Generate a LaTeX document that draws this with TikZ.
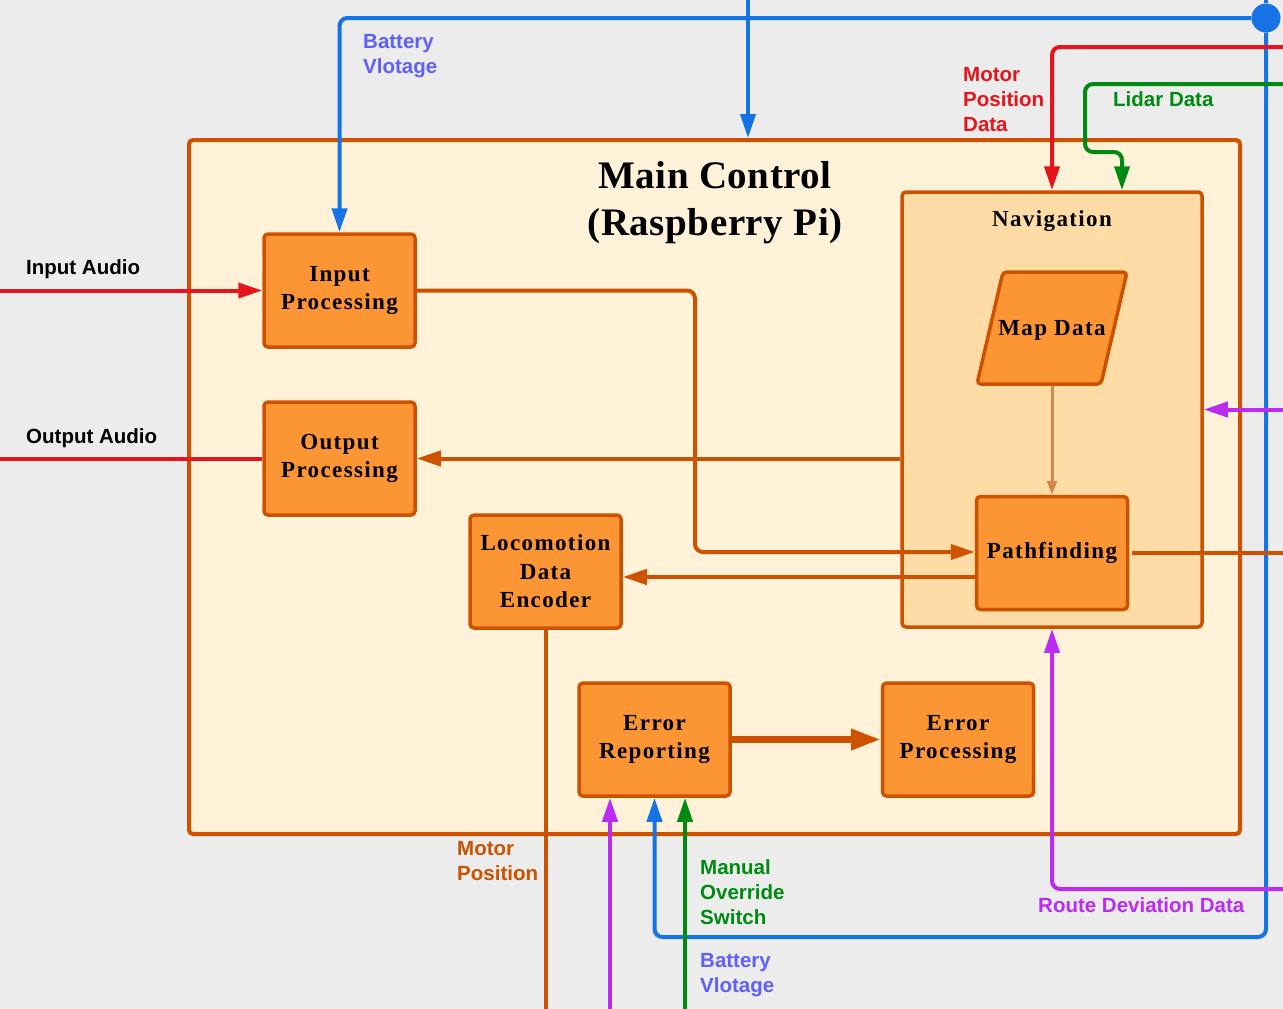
\documentclass[tikz,border=0pt]{standalone}
\usepackage{fontspec}
\setmainfont{Liberation Serif}
\newfontfamily\boxfont[LetterSpace=6]{Liberation Serif}
\newfontfamily\titlefont[LetterSpace=1.5]{Liberation Serif}
\newfontfamily\lblfont{Liberation Sans}
\usepackage{tikz}
\usetikzlibrary{arrows.meta, positioning, calc}

\definecolor{bggray}{HTML}{ECECEC}
\definecolor{cream}{HTML}{FFF2D9}
\definecolor{navfill}{HTML}{FFDCA6}
\definecolor{boxfill}{HTML}{FC9533}
\definecolor{boxline}{HTML}{CC5200}
\definecolor{mapline}{HTML}{D2884A}
\definecolor{sigred}{HTML}{E8141C}
\definecolor{sigblue}{HTML}{1673E6}
\definecolor{siggreen}{HTML}{008A12}
\definecolor{sigpurple}{HTML}{BC2BF2}
\definecolor{txtblue}{HTML}{5F5FFA}

\begin{document}
\begin{tikzpicture}[x=1pt,y=-1pt,>={Triangle[length=24pt,width=15pt]},
                    proc node/.style={rectangle,draw=boxline,fill=boxfill,line width=3.5pt,rounded corners=4pt,
                                      minimum width=151pt,minimum height=113pt,align=center,
                                      font=\boxfont\bfseries\fontsize{23}{28.5}\selectfont},
                    sig line/.style={line width=4pt,rounded corners=8pt},
                    red line/.style={sig line,draw=sigred},
                    blue line/.style={sig line,draw=sigblue},
                    green line/.style={sig line,draw=siggreen},
                    purple line/.style={sig line,draw=sigpurple},
                    or line/.style={sig line,draw=boxline},
                    sig label/.style={anchor=north west,inner sep=0pt,align=left,
                                      font=\lblfont\bfseries\fontsize{20.5}{25}\selectfont}]
    \useasboundingbox (0,0) rectangle (1283,1009);
    \fill[bggray] (0,0) rectangle (1283,1009);

    \node[draw=boxline,fill=cream,line width=4pt,rounded corners=4pt,minimum width=1051pt,minimum height=694pt] (main) at (714.5,487) {};
    \node[align=center,font=\titlefont\bfseries\fontsize{39}{47}\selectfont] (title) at (715,203) {Main Control\\(Raspberry Pi)};
    \node[draw=boxline,fill=navfill,line width=3.5pt,rounded corners=4pt,minimum width=300pt,minimum height=435pt] (nav) at (1052,409.5) {};
    \node[font=\boxfont\bfseries\fontsize{23}{28}\selectfont] (navtitle) at (1052,221) {Navigation};

    \node[proc node] (inproc) at (339.5,290.5) {Input\\Processing};
    \node[proc node] (outproc) at (339.5,458.5) {Output\\Processing};
    \node[proc node] (loco) at (545.5,571.5) {Locomotion\\Data\\Encoder};
    \node[proc node] (errrep) at (654.5,739.5) {Error\\Reporting};
    \node[proc node] (errproc) at (958,739.5) {Error\\Processing};
    \node[proc node] (pathf) at (1052,553) {Pathfinding};
    \node[proc node,xslant=0.232,minimum width=124pt,minimum height=112pt] (mapd) at (1052,328) {};
    \node[font=\boxfont\bfseries\fontsize{23}{28}\selectfont] (maptext) at (1052,330) {Map Data};

    \coordinate (btop) at (1266,0);
    \coordinate (btop2) at (748,0);
    \coordinate (bturn) at (654.5,937);
    \node[circle,fill=sigblue,inner sep=0pt,minimum size=29pt] (junc) at (1266,18) {};

    \draw[blue line] (btop) -- (junc);
    \draw[blue line,->] (junc) -| (inproc.north);
    \draw[blue line,->] (btop2) -- (btop2 |- main.north);
    \draw[blue line,->] (junc) |- (bturn) -- (errrep.south);

    \coordinate (mpin) at (1283,47);
    \coordinate (lidin) at (1283,84);
    \draw[red line,->] (mpin) -| (nav.north);
    \draw[green line,->] (lidin) -| (1085,152) -| ([xshift=70pt]nav.north);

    \coordinate (ain) at (0,290.5);
    \coordinate (aout) at (0,458.5);
    \draw[red line,->] (ain) -- (inproc.west);
    \draw[red line] (outproc.west) -- (aout);

    \draw[or line,->] (inproc.east) -- (695,290.5) |- ([yshift=1pt]pathf.west);
    \draw[or line,->] (nav.west |- outproc.east) -- (outproc.east);
    \draw[or line,->] ([yshift=-24pt]pathf.west) coordinate (pl) -- (pl -| loco.east);
    \draw[line width=3pt,draw=mapline,->,>={Triangle[length=14pt,width=10pt]}] (mapd.south -| pathf.north) -- (pathf.north);
    \coordinate (pfout) at (1283,553);
    \draw[or line] ([xshift=3pt]pathf.east) -- (pfout);
    \coordinate (locout) at (545.5,1009);
    \draw[or line] (loco.south) -- (locout);
    \draw[or line,line width=7pt,->,>={Triangle[length=30pt,width=20pt]}] (errrep.east) -- (errproc.west);

    \coordinate (rdin) at (1283,409.5);
    \coordinate (rdin2) at (1283,889);
    \coordinate (pin) at (610,1009);
    \coordinate (gin) at (685,1009);
    \draw[purple line,->] (rdin) -- (nav.east);
    \draw[purple line,->] (rdin2) -| (nav.south);
    \draw[purple line,->] (pin) -- (pin |- errrep.south);
    \draw[green line,->] (gin) -- (gin |- errrep.south);

    \node[sig label,text=txtblue] (lbat) at (363,34) {Battery\\Vlotage};
    \node[sig label,text=sigred] (lmpd) at (963,67) {Motor\\Position\\Data};
    \node[sig label,text=siggreen] (llid) at (1113,91) {Lidar Data};
    \node[sig label,text=black] (lain) at (26,259) {Input Audio};
    \node[sig label,text=black] (laout) at (26,428) {Output Audio};
    \node[sig label,text=boxline] (lmp) at (457,841) {Motor\\Position};
    \node[sig label,text=siggreen] (lman) at (700,859) {Manual\\Override\\Switch};
    \node[sig label,text=txtblue] (lbat2) at (700,953) {Battery\\Vlotage};
    \node[sig label,text=sigpurple] (lrd) at (1038,897) {Route Deviation Data};
\end{tikzpicture}
\end{document}
